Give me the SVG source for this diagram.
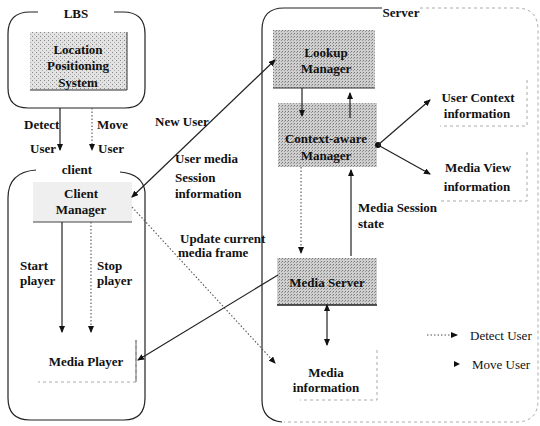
<svg xmlns="http://www.w3.org/2000/svg" width="540" height="426" viewBox="0 0 540 426">
<defs>
<marker id="ah" markerUnits="userSpaceOnUse" markerWidth="7" markerHeight="6" refX="6" refY="3" orient="auto-start-reverse">
<path d="M0,0 L7,3 L0,6 Z" fill="#111"/>
</marker>
<pattern id="stip" width="4" height="4" patternUnits="userSpaceOnUse">
<rect width="4" height="4" fill="#e2e2e2"/>
<rect x="0" y="0" width="1" height="1" fill="#888"/>
<rect x="2" y="2" width="1" height="1" fill="#aaa"/>
</pattern>
<pattern id="stipD" width="3" height="3" patternUnits="userSpaceOnUse">
<rect width="3" height="3" fill="#cfcfcf"/>
<rect x="0" y="0" width="1" height="1" fill="#777"/>
<rect x="2" y="1" width="1" height="1" fill="#999"/>
</pattern>
</defs>
<style>
text{font-family:"Liberation Serif","Times New Roman",serif;font-size:13px;fill:#111}
.b{font-weight:bold}
.m{text-anchor:middle}
.sol{stroke:#222;stroke-width:1.2;fill:none}
.dot{stroke:#555;stroke-width:1.1;stroke-dasharray:1.5 2;fill:none}
.grp{fill:none;stroke:#222;stroke-width:1.2}
.faint{fill:none;stroke:#aaa;stroke-width:1;stroke-dasharray:3 3}
</style>
<rect width="540" height="426" fill="#fff"/>

<g id="lbs">
<path class="grp" d="M38,12 L30,12 Q8,12 8,34 L8,88 Q8,108 28,108 L125,108 Q145,108 145,88 L145,34 Q145,12 123,12 L114,12"/>
<text class="b m" x="76" y="18">LBS</text>
</g>
<g id="location">
<rect x="30" y="32" width="97" height="58" fill="url(#stip)"/>
<path d="M127,32 L127,90 L30,90" fill="none" stroke="#333" stroke-width="1"/>
<text class="b m" x="78" y="54">Location</text>
<text class="b m" x="78" y="70">Positioning</text>
<text class="b m" x="78" y="87">System</text>
</g>

<g id="client">
<path class="grp" d="M36,170 Q8,172 8,198 L8,398 Q8,420 30,420 L124,420 Q145,420 145,398 L145,192 Q143,174 120,172"/>
<text class="b m" x="77" y="174">client</text>
</g>
<g id="clientmanager">
<rect x="33" y="182" width="99" height="40" fill="#efefef"/>
<line x1="33" y1="222" x2="132" y2="222" stroke="#444" stroke-width="1"/>
<text class="b m" x="81" y="198">Client</text>
<text class="b m" x="81" y="214">Manager</text>
</g>
<g id="mediaplayer">
<path class="faint" d="M136,340 L136,382 L38,382"/>
<line x1="136" y1="340" x2="136" y2="382" stroke="#666" stroke-width="1"/>
<text class="b m" x="86" y="366">Media Player</text>
</g>

<g id="server">
<path class="faint" d="M420,8 L516,8 Q538,8 538,30 L538,400 Q538,422 516,422 L284,422"/>
<path class="grp" d="M382,8 L284,8 Q262,8 262,30 L262,400 Q262,420 282,422"/>
<text class="b m" x="401" y="17">Server</text>
</g>
<g id="lookup">
<rect x="273" y="30" width="102" height="58" fill="url(#stipD)"/>
<line x1="273" y1="88" x2="375" y2="88" stroke="#333" stroke-width="1.2"/>
<text class="b m" x="326" y="57">Lookup</text>
<text class="b m" x="326" y="73">Manager</text>
</g>
<g id="context">
<rect x="278" y="103" width="99" height="64" fill="url(#stipD)"/>
<text class="b m" x="326" y="143">Context-aware</text>
<text class="b m" x="326" y="160">Manager</text>
</g>
<g id="mediaserver">
<rect x="277" y="258" width="100" height="47" fill="url(#stipD)"/>
<line x1="277" y1="305" x2="377" y2="305" stroke="#222" stroke-width="1.4"/>
<text class="b m" x="327" y="287">Media Server</text>
</g>
<g id="mediainfo">
<path class="faint" d="M377,350 L377,400 L300,400"/>
<text class="b m" x="326" y="377">Media</text>
<text class="b m" x="326" y="392">information</text>
</g>
<g id="usercontext">
<path class="faint" d="M527,80 L527,126 L440,126"/>
<text class="b m" x="478" y="102">User Context</text>
<text class="b m" x="477" y="118">information</text>
</g>
<g id="mediaview">
<path class="faint" d="M527,152 L527,201 L440,201"/>
<text class="b m" x="478" y="172">Media View</text>
<text class="b m" x="477" y="191">information</text>
</g>

<g id="connectors">
<line class="sol" x1="60" y1="108" x2="60" y2="150" marker-end="url(#ah)"/>
<line class="dot" x1="92" y1="108" x2="92" y2="150" marker-end="url(#ah)"/>
<line class="sol" x1="132" y1="197" x2="275" y2="60" marker-start="url(#ah)" marker-end="url(#ah)"/>
<line class="dot" x1="132" y1="207" x2="275" y2="363" marker-end="url(#ah)"/>
<line class="sol" x1="62" y1="222" x2="62" y2="332" marker-end="url(#ah)"/>
<line class="dot" x1="91" y1="222" x2="91" y2="332" marker-end="url(#ah)"/>
<line class="sol" x1="278" y1="275" x2="138" y2="360" marker-end="url(#ah)"/>
<line class="sol" x1="302" y1="88" x2="302" y2="116" marker-end="url(#ah)"/>
<line class="sol" x1="350" y1="118" x2="350" y2="93" marker-end="url(#ah)"/>
<line class="dot" x1="301" y1="167" x2="301" y2="253" marker-end="url(#ah)"/>
<line class="sol" x1="351" y1="256" x2="351" y2="170" marker-end="url(#ah)"/>
<circle cx="378" cy="145" r="3" fill="#111"/>
<line class="sol" x1="378" y1="145" x2="430" y2="100" marker-end="url(#ah)"/>
<line class="sol" x1="378" y1="145" x2="430" y2="174" marker-end="url(#ah)"/>
<line class="sol" x1="327" y1="305" x2="327" y2="345" marker-start="url(#ah)" marker-end="url(#ah)"/>
</g>

<g id="labels">
<text class="b" x="24" y="129">Detect</text>
<text class="b" x="30" y="153">User</text>
<text class="b" x="97" y="129">Move</text>
<text class="b" x="98" y="153">User</text>
<text class="b" x="155" y="126">New User</text>
<text class="b" x="175" y="163">User media</text>
<text class="b" x="175" y="182">Session</text>
<text class="b" x="175" y="198">information</text>
<text class="b" x="180" y="243">Update current</text>
<text class="b" x="178" y="257">media frame</text>
<text class="b" x="20" y="270">Start</text>
<text class="b" x="20" y="285">player</text>
<text class="b" x="97" y="270">Stop</text>
<text class="b" x="97" y="285">player</text>
<text class="b" x="358" y="212">Media Session</text>
<text class="b" x="358" y="228">state</text>
</g>

<g id="legend">
<line class="dot" x1="427" y1="335" x2="457" y2="335" marker-end="url(#ah)"/>
<text x="470" y="340">Detect User</text>
<path d="M454,361 L460,364 L454,367 Z" fill="#111"/>
<text x="472" y="369">Move User</text>
</g>
</svg>
